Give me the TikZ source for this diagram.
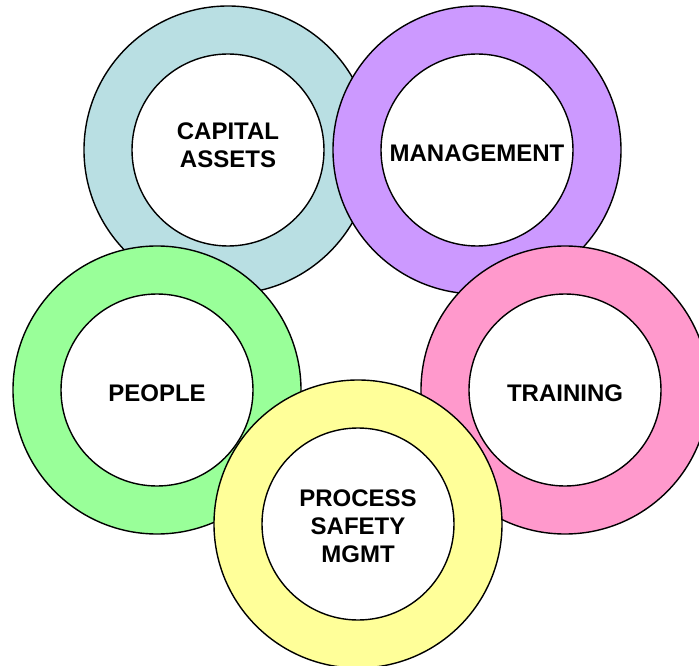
\documentclass[tikz,border=0pt]{standalone}
\usepackage{fontspec}
\setmainfont{Liberation Sans}
\usepackage{tikz}
\usetikzlibrary{shapes.geometric, positioning}
\definecolor{capblue}{RGB}{185, 223, 227}
\definecolor{mgmtpurple}{RGB}{204, 153, 255}
\definecolor{peoplegreen}{RGB}{153, 255, 153}
\definecolor{trainpink}{RGB}{255, 153, 204}
\definecolor{psmyellow}{RGB}{255, 255, 153}

\begin{document}
\begin{tikzpicture}[x=1pt, y=-1pt,
    outerring/.style={circle, minimum size=288pt, inner sep=0pt,
        draw=black, line width=1.4pt},
    innerring/.style={circle, minimum size=192pt, inner sep=0pt,
        draw=black, line width=1.4pt, fill=white,
        text centered, align=center,
        font=\fontsize{24}{28}\selectfont\bfseries},
    ringlabel/.style={align=center, inner sep=0pt,
        font=\fontsize{24}{28}\selectfont\bfseries},
]

\useasboundingbox (0,0) rectangle (699,666);
\clip (0,0) rectangle (699,666);

% ── RINGS, back to front ───────────────────────────────────────────────────
\node[outerring, fill=capblue]     at (228, 150) (capout)   {};
\node[innerring]                   at (228, 150) (capin)    {};

\node[outerring, fill=mgmtpurple]  at (477, 150) (mgmtout)  {};
\node[innerring]                   at (477, 150) (mgmtin)   {};

\node[outerring, fill=peoplegreen] at (157, 390) (peopout)  {};
\node[innerring]                   at (157, 390) (peopin)   {};

\node[outerring, fill=trainpink]   at (565, 390) (trainout) {};
\node[innerring]                   at (565, 390) (trainin)  {};

\node[outerring, fill=psmyellow]   at (358, 524) (psmout)   {};
\node[innerring]                   at (358, 524) (psmin)    {};

% ── LABELS ─────────────────────────────────────────────────────────────────
\node[ringlabel] at ([yshift=5pt]capin.center)    (caplbl)   {CAPITAL\\ASSETS};
\node[ringlabel] at ([yshift=-3pt]mgmtin.center)  (mgmtlbl)  {MANAGEMENT};
\node[ringlabel] at ([yshift=-3pt]peopin.center)  (peoplbl)  {PEOPLE};
\node[ringlabel] at ([yshift=-3pt]trainin.center) (trainlbl) {TRAINING};
\node[ringlabel] at ([yshift=-2pt]psmin.center)   (psmlbl)   {PROCESS\\SAFETY\\MGMT};

\end{tikzpicture}
\end{document}
